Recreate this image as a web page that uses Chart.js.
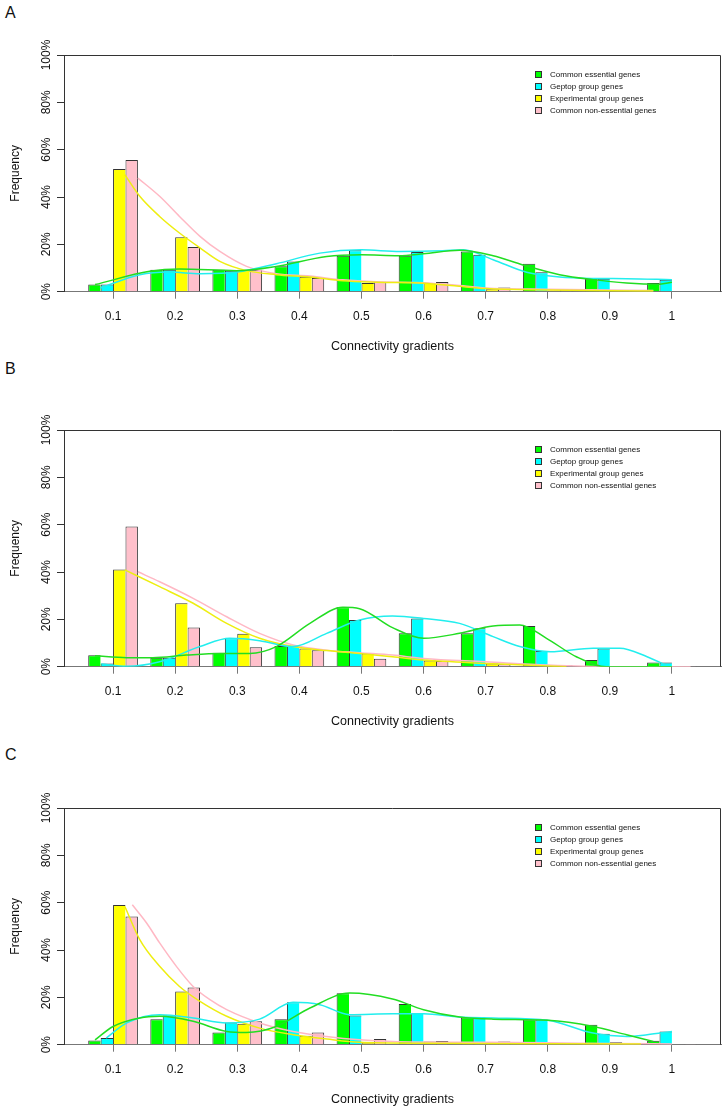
<!DOCTYPE html>
<html>
<head>
<meta charset="utf-8">
<script src="https://cdn.jsdelivr.net/npm/chart.js@4"></script>
<style>
  body { margin: 0; background: #fff; width: 726px; height: 1110px; overflow: hidden; position: relative; font-family: "Liberation Sans", Arial, sans-serif; }
  .panel { position: absolute; left: 0; width: 726px; height: 357px; }
  .letter { position: absolute; left: 5px; font-size: 16px; line-height: 16px; color: #111; }
  .legend { position: absolute; left: 535px; top: 69px; font-size: 8px; color: #111; }
  .legend div { height: 12px; line-height: 12px; white-space: nowrap; }
  .legend span { display: inline-block; width: 7px; height: 7px; border: 1px solid #333; box-sizing: border-box; margin-right: 8px; vertical-align: -0.5px; }
</style>
</head>
<body>
<div class="letter" style="top:5px">A</div>
<div class="letter" style="top:361px">B</div>
<div class="letter" style="top:747px">C</div>
<div class="panel" style="top:0px"><canvas id="chartA"></canvas><div class="legend" id="legendA"></div></div>
<div class="panel" style="top:375px"><canvas id="chartB"></canvas><div class="legend" id="legendB"></div></div>
<div class="panel" style="top:753px"><canvas id="chartC"></canvas><div class="legend" id="legendC"></div></div>
<script>
// Categorías del eje x y etiquetas
const gradients = [0.1, 0.2, 0.3, 0.4, 0.5, 0.6, 0.7, 0.8, 0.9, 1];
const gradientLabels = ["0.1", "0.2", "0.3", "0.4", "0.5", "0.6", "0.7", "0.8", "0.9", "1"];
const freqTicks = ["0%", "20%", "40%", "60%", "80%", "100%"];
const groupNames = ["Common essential genes", "Geptop group genes", "Experimental group genes", "Common non-essential genes"];
const groupColors = ["#00ff00", "#00ffff", "#ffff00", "#ffc0cb"];
const curveColors = ["#22dd22", "#22eeee", "#eeee11", "#ffb8c4"];

// Panel A - barras (%)
const essentialA = [3.0, 9.3, 9.3, 10.7, 15.2, 15.2, 17.0, 11.8, 5.5, 3.7];
const geptopA = [3.0, 9.3, 8.8, 12.8, 17.5, 16.8, 15.6, 8.2, 5.5, 5.1];
const experimentalA = [51.8, 23.0, 9.3, 6.3, 3.7, 3.7, 1.0, 0.5, 0.3, 0];
const nonEssentialA = [55.6, 18.9, 9.3, 5.8, 4.2, 4.1, 1.8, 0.8, 0.2, 0.2];
// Panel A - curvas
const essentialCurveA = [[0.071, 3.0], [0.159, 8.6], [0.207, 9.6], [0.299, 8.9], [0.363, 10.7], [0.444, 14.9], [0.5, 15.6], [0.56, 15.2], [0.6, 16.0], [0.658, 17.5], [0.712, 15.2], [0.76, 11.3], [0.819, 7.2], [0.873, 5.1], [0.927, 3.7], [0.98, 3.2], [1.0, 4.0]];
const geptopCurveA = [[0.079, 1.5], [0.143, 7.2], [0.191, 8.3], [0.24, 7.6], [0.3, 8.3], [0.363, 11.8], [0.433, 16.3], [0.5, 17.7], [0.562, 17.0], [0.631, 17.3], [0.664, 17.7], [0.712, 13.5], [0.766, 8.2], [0.819, 6.2], [0.873, 5.6], [0.927, 5.5], [1.0, 5.1]];
const experimentalCurveA = [[0.119, 49.4], [0.143, 40.3], [0.175, 31.8], [0.207, 24.8], [0.24, 18.5], [0.272, 12.8], [0.315, 8.9], [0.363, 7.2], [0.417, 6.2], [0.47, 4.6], [0.524, 4.0], [0.6, 3.6], [0.65, 2.5], [0.7, 1.3], [0.8, 0.7], [0.9, 0.4], [0.97, 0.3]];
const nonEssentialCurveA = [[0.14, 48.0], [0.175, 40.3], [0.207, 31.8], [0.24, 23.4], [0.272, 17.0], [0.315, 10.7], [0.363, 7.6], [0.417, 6.6], [0.47, 5.0], [0.524, 4.2], [0.6, 3.8], [0.65, 2.8], [0.7, 1.6], [0.8, 1.0], [0.9, 0.7], [0.97, 0.5]];

// Panel B - barras (%)
const essentialB = [4.8, 3.8, 5.9, 8.7, 25.1, 14.1, 14.1, 17.2, 2.8, 1.8];
const geptopB = [1.4, 3.8, 12.0, 8.7, 19.7, 20.4, 16.2, 6.6, 7.7, 1.8];
const experimentalB = [41.1, 26.8, 13.9, 7.7, 5.6, 2.6, 1.4, 0.2, 0, 0];
const nonEssentialB = [59.2, 16.6, 8.2, 7.0, 3.4, 2.4, 1.0, 0.6, 0, 0.1];
// Panel B - curvas
const essentialCurveB = [[0.071, 4.6], [0.122, 3.8], [0.164, 3.8], [0.218, 4.9], [0.272, 5.6], [0.32, 5.6], [0.363, 8.5], [0.417, 18.3], [0.47, 25.1], [0.497, 24.5], [0.55, 16.5], [0.6, 12.0], [0.658, 14.1], [0.712, 17.2], [0.755, 17.6], [0.798, 12.0], [0.846, 4.2], [0.894, 0], [0.95, 0], [1.0, 0]];
const geptopCurveB = [[0.081, 1.1], [0.122, 0.2], [0.175, 2.1], [0.24, 8.5], [0.288, 12.0], [0.336, 11.0], [0.39, 8.5], [0.444, 14.1], [0.497, 19.7], [0.55, 21.4], [0.6, 20.4], [0.658, 18.3], [0.712, 12.7], [0.755, 8.5], [0.804, 6.3], [0.873, 7.8], [0.916, 7.8], [0.96, 4.2], [0.99, 0.7]];
const experimentalCurveB = [[0.119, 40.9], [0.175, 33.8], [0.229, 26.8], [0.283, 18.3], [0.336, 12.0], [0.39, 8.5], [0.444, 6.8], [0.497, 5.6], [0.55, 4.2], [0.6, 2.8], [0.7, 1.4], [0.8, 0.3], [0.83, 0]];
const nonEssentialCurveB = [[0.14, 40.1], [0.175, 35.9], [0.229, 28.9], [0.283, 21.1], [0.336, 14.1], [0.39, 9.2], [0.444, 7.0], [0.497, 5.9], [0.55, 4.9], [0.6, 3.5], [0.7, 2.1], [0.8, 0.7], [0.9, 0], [1.03, 0]];

// Panel C - barras (%)
const essentialC = [1.8, 10.8, 5.2, 10.8, 21.7, 17.2, 11.5, 10.6, 8.4, 1.7];
const geptopC = [2.8, 12.3, 9.4, 17.9, 12.3, 13.4, 11.5, 10.6, 4.6, 5.6];
const experimentalC = [59.0, 22.5, 8.9, 3.8, 0.7, 1.4, 0.3, 0.1, 1.0, 0];
const nonEssentialC = [54.2, 24.2, 9.9, 5.2, 2.4, 1.6, 1.4, 0.2, 0.7, 0.3];
// Panel C - curvas
const essentialCurveC = [[0.071, 2.0], [0.1, 7.7], [0.143, 11.3], [0.175, 12.0], [0.229, 9.9], [0.283, 5.6], [0.315, 5.2], [0.363, 7.7], [0.417, 15.5], [0.481, 21.8], [0.55, 19.3], [0.6, 14.8], [0.658, 11.7], [0.712, 10.8], [0.8, 10.3], [0.873, 7.7], [0.927, 4.2], [0.97, 1.4]];
const geptopCurveC = [[0.089, 2.8], [0.122, 9.2], [0.175, 12.7], [0.229, 11.3], [0.283, 9.2], [0.336, 10.8], [0.39, 17.9], [0.433, 16.9], [0.481, 12.7], [0.55, 13.1], [0.6, 13.1], [0.658, 11.7], [0.712, 11.3], [0.8, 10.3], [0.873, 4.9], [0.927, 3.5], [0.96, 4.2], [1.0, 5.6]];
const experimentalCurveC = [[0.119, 58.4], [0.143, 44.4], [0.175, 33.1], [0.207, 24.6], [0.24, 18.3], [0.283, 12.0], [0.336, 7.0], [0.39, 4.2], [0.444, 2.4], [0.497, 1.0], [0.6, 0.6], [0.8, 0.4], [0.95, 0.3]];
const nonEssentialCurveC = [[0.131, 59.1], [0.154, 51.4], [0.175, 43.0], [0.202, 33.1], [0.229, 24.6], [0.256, 19.0], [0.283, 14.8], [0.336, 9.2], [0.39, 5.6], [0.444, 3.5], [0.497, 2.1], [0.55, 1.4], [0.7, 1.0], [0.8, 0.8], [0.9, 0.5], [1.0, 0.3]];

Chart.defaults.font.family = '"Liberation Sans", Arial, sans-serif';
Chart.defaults.color = "#111";

// Marco superior y derecho del área del gráfico
const frameBox = {
  id: "frameBox",
  afterDatasetsDraw(chart) {
    const { ctx, chartArea: a } = chart;
    ctx.save();
    ctx.strokeStyle = "#333";
    ctx.lineWidth = 1;
    ctx.beginPath();
    ctx.moveTo(a.left, Math.round(a.top) + 0.5);
    ctx.lineTo(Math.round(a.right) - 0.5, Math.round(a.top) + 0.5);
    ctx.lineTo(Math.round(a.right) - 0.5, a.bottom);
    ctx.stroke();
    ctx.restore();
  }
};

function buildLegend(id) {
  const box = document.getElementById(id);
  groupNames.forEach((name, i) => {
    const row = document.createElement("div");
    row.innerHTML = `<span style="background:${groupColors[i]}"></span>${name}`;
    box.appendChild(row);
  });
}

function buildChart(canvasId, bars, curves) {
  const datasets = [];
  curves.forEach((curve, i) => {
    datasets.push({
      type: "line",
      label: groupNames[i] + " curve",
      data: curve.map(([x, y]) => ({ x, y })),
      borderColor: curveColors[i],
      borderWidth: 1.5,
      pointRadius: 0,
      cubicInterpolationMode: "monotone",
      fill: false,
      order: 0
    });
  });
  bars.forEach((values, i) => {
    datasets.push({
      type: "bar",
      label: groupNames[i],
      data: gradients.map((g, k) => ({ x: g, y: values[k] })),
      backgroundColor: groupColors[i],
      borderColor: "#333",
      borderWidth: { top: 1, left: 1, right: i === 3 ? 1 : 0, bottom: 0 },
      borderSkipped: "bottom",
      categoryPercentage: 0.8,
      barPercentage: 1,
      order: 1
    });
  });

  new Chart(document.getElementById(canvasId), {
    type: "bar",
    data: { datasets },
    options: {
      responsive: true,
      maintainAspectRatio: false,
      animation: false,
      layout: { padding: { top: 55, right: 5, bottom: 0, left: 0 } },
      plugins: { legend: { display: false }, tooltip: { enabled: false } },
      scales: {
        x: {
          type: "linear",
          min: 0.021,
          max: 1.079,
          offset: false,
          afterBuildTicks: (s) => { s.ticks = gradients.map((v) => ({ value: v })); },
          afterFit: (s) => { s.height = 65.3; },
          grid: { drawOnChartArea: false, drawTicks: true, tickLength: 7, color: "#777", offset: false },
          border: { display: true, color: "#777" },
          ticks: { padding: 10.8, font: { size: 12 }, maxRotation: 0, autoSkip: false, callback: (v, i) => gradientLabels[i] },
          title: { display: true, text: "Connectivity gradients", font: { size: 12.5 }, padding: { top: 0, bottom: 2.5 } }
        },
        y: {
          min: 0,
          max: 100,
          afterFit: (s) => { s.width = 64; },
          grid: { drawOnChartArea: false, drawTicks: true, tickLength: 7, color: "#333" },
          border: { display: true, color: "#333" },
          ticks: { stepSize: 20, minRotation: 90, maxRotation: 90, crossAlign: "center", padding: -5, font: { size: 12 }, callback: (v, i) => freqTicks[i] },
          title: { display: true, text: "Frequency", font: { size: 12 }, padding: { top: 8.8, bottom: 0 } }
        }
      }
    },
    plugins: [frameBox]
  });
}

buildChart("chartA", [essentialA, geptopA, experimentalA, nonEssentialA], [essentialCurveA, geptopCurveA, experimentalCurveA, nonEssentialCurveA]);
buildChart("chartB", [essentialB, geptopB, experimentalB, nonEssentialB], [essentialCurveB, geptopCurveB, experimentalCurveB, nonEssentialCurveB]);
buildChart("chartC", [essentialC, geptopC, experimentalC, nonEssentialC], [essentialCurveC, geptopCurveC, experimentalCurveC, nonEssentialCurveC]);
buildLegend("legendA");
buildLegend("legendB");
buildLegend("legendC");
</script>
</body>
</html>
